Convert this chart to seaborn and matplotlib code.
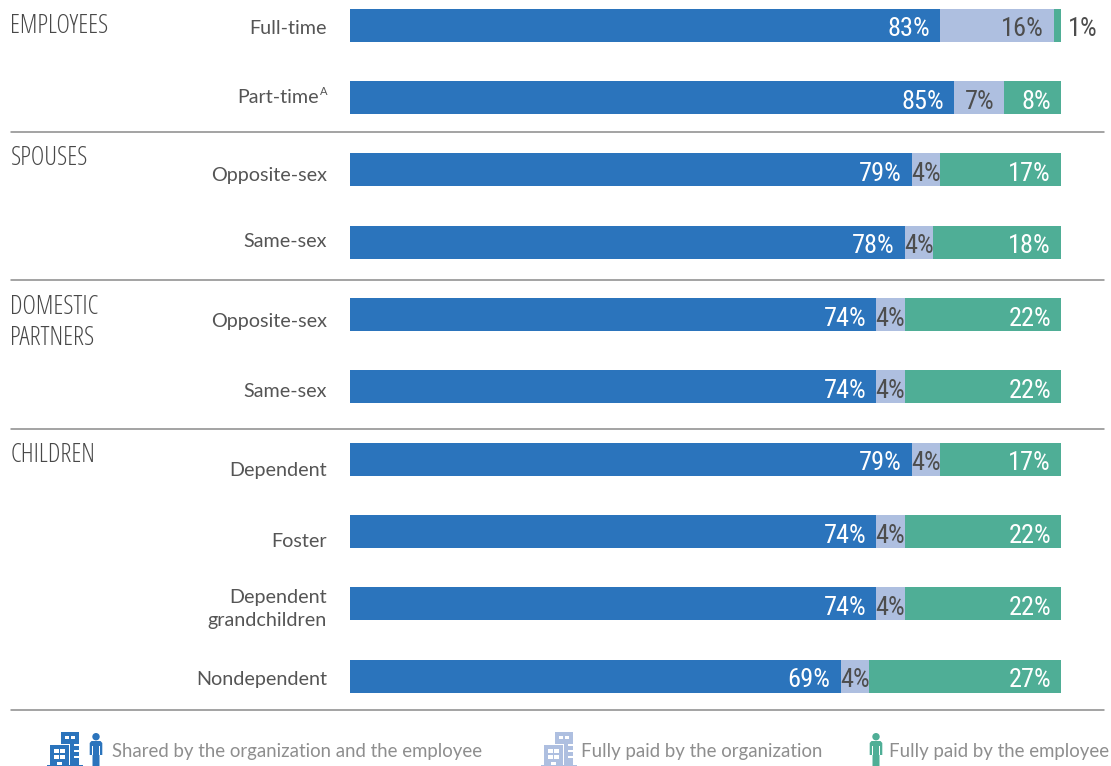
import pandas as pd
import matplotlib
matplotlib.use("Agg")
import matplotlib.pyplot as plt
from matplotlib.lines import Line2D
from matplotlib.patches import Circle, Polygon, Rectangle
import seaborn as sns

# Survey figures: who pays for each kind of coverage, in percent
row_labels = ["Full-time", "Part-time", "Opposite-sex", "Same-sex", "Opposite-sex",
              "Same-sex", "Dependent", "Foster", "Dependent\ngrandchildren", "Nondependent"]
shared = [83, 85, 79, 78, 74, 74, 79, 74, 74, 69]
org_paid = [16, 7, 4, 4, 4, 4, 4, 4, 4, 4]
emp_paid = [1, 8, 17, 18, 22, 22, 17, 22, 22, 27]

group_names = ["EMPLOYEES", "SPOUSES", "DOMESTIC\nPARTNERS", "CHILDREN"]
legend_names = ["Shared by the organization and the employee",
                "Fully paid by the organization",
                "Fully paid by the employee"]

BLUE, LIGHT, GREEN = "#2B74BC", "#AEBFE0", "#4FAE96"
DARK, GREY, RULE = "#555555", "#8E8E8E", "#8A8A8A"
TEXT = ["Lato", "DejaVu Sans"]

sns.set_theme(style="white")
W, H = 1111, 766
fig = plt.figure(figsize=(W / 100, H / 100), dpi=100, facecolor="white")

# Plot area: 0-100 % spans the bar track; rows sit 72.33 px apart
left_px, right_px, first_row_px, row_px = 350, 1061, 25.2, 72.33
ax = fig.add_axes([left_px / W, 0, (right_px - left_px) / W, 1])

df = pd.DataFrame({"row": [str(i) for i in range(len(shared))],
                   "shared": shared, "org": org_paid, "emp": emp_paid})
df["org_start"] = df["shared"]
df["emp_start"] = df["shared"] + df["org"]

bar_w = 33 / row_px
for col, start, colour in [("shared", None, BLUE), ("org", "org_start", LIGHT), ("emp", "emp_start", GREEN)]:
    extra = {} if start is None else {"left": df[start].to_numpy()}
    sns.barplot(data=df, y="row", x=col, orient="h", color=colour, saturation=1,
                width=bar_w, errorbar=None, ax=ax, linewidth=0, **extra)

ax.set_xlim(0, 100)
ax.set_ylim((H - first_row_px) / row_px, -first_row_px / row_px)
ax.axis("off")


def pct(x, y, value, colour, ha, dx):
    ax.annotate(f"{value}%", (x, y), xytext=(dx, -4), textcoords="offset pixels",
                ha=ha, va="center", color=colour, fontsize=19, family="Roboto Condensed",
                weight=400)


for i, (a, b, c) in enumerate(zip(shared, org_paid, emp_paid)):
    pct(a, i, a, "white", "right", -10)
    if b <= 4:
        pct(a + b / 2, i, b, "#4D4D4D", "center", 0)
    else:
        pct(a + b, i, b, "#4D4D4D", "right", -10)
    if c <= 1:
        pct(100, i, c, "#4D4D4D", "left", 7)
    else:
        pct(100, i, c, "white", "right", -10)

# Row labels sit a little off the bar centres in places
label_shift = [-3, 0, -6, 1, -7, -5, -11, -10, -5, -3]
for i, (name, dy) in enumerate(zip(row_labels, label_shift)):
    shift = 4 if i == 1 else 0
    ax.annotate(name, (0, i), xytext=(-23 - shift * 2, dy), textcoords="offset pixels",
                ha="right", va="center", color=DARK, fontsize=14.2, family=TEXT,
                linespacing=1.4, multialignment="right")
ax.annotate("A", (0, 1), xytext=(-23, 6), textcoords="offset pixels", ha="right", va="center",
            color=DARK, fontsize=8, family=TEXT)

# Full-figure overlay in pixel units for group headings, rules and the key
ov = fig.add_axes([0, 0, 1, 1], facecolor="none")
ov.set_xlim(0, W)
ov.set_ylim(H, 0)
ov.axis("off")

for name, y in zip(group_names, [26.5, 158.5, 323, 455.5]):
    ov.text(10.5, y, name, ha="left", va="center", color="#484848", fontsize=18.5,
            family="Open Sans", stretch="condensed", weight=300, linespacing=1.3)
for y in [132, 280, 429, 710]:
    ov.add_line(Line2D([11, 1104], [y, y], color=RULE, lw=1.1))


def block(x, y, w, h, colour):
    ov.add_patch(Rectangle((x, y), w, h, color=colour, lw=0))


def building(x, colour):
    block(x, 764.5, 36, 1.5, colour)
    block(x + 14, 732, 18, 33, colour)
    for wx in (x + 18, x + 24):
        block(wx, 736, 4.4, 3, "white")
    for wy in (744, 750, 756):
        block(x + 27, wy, 5, 2, "white")
    # lower block sits in front, with a thin white edge around it
    block(x + 2, 744, 21, 21, "white")
    block(x + 3, 745, 19, 20, colour)
    for wx in (x + 7, x + 13):
        for wy in (749, 755):
            block(wx, wy, 5, 4.2, "white")
    block(x + 10, 761.5, 4.5, 3.5, "white")


def person(cx, colour):
    ov.add_patch(Circle((cx, 736.7), 3.7, color=colour, lw=0))
    ov.add_patch(Polygon([(cx - 4.5, 741), (cx + 4.5, 741), (cx + 6.3, 743), (cx + 6.3, 755),
                          (cx + 3.5, 755), (cx + 3.5, 766), (cx - 3.5, 766), (cx - 3.5, 755),
                          (cx - 6.3, 755), (cx - 6.3, 743)], closed=True, color=colour, lw=0))
    for sx in (cx - 4.1, cx + 3.1):
        block(sx, 746, 1, 9, "white")
    block(cx - 0.4, 756, 0.8, 10, "white")


building(47, BLUE)
person(96, BLUE)
building(541, LIGHT)
person(876, GREEN)
for x, name in zip([112, 581, 889], legend_names):
    ov.text(x, 751, name, ha="left", va="center", color=GREY, fontsize=13.45, family=TEXT)

fig.savefig("out.png", dpi=100)
